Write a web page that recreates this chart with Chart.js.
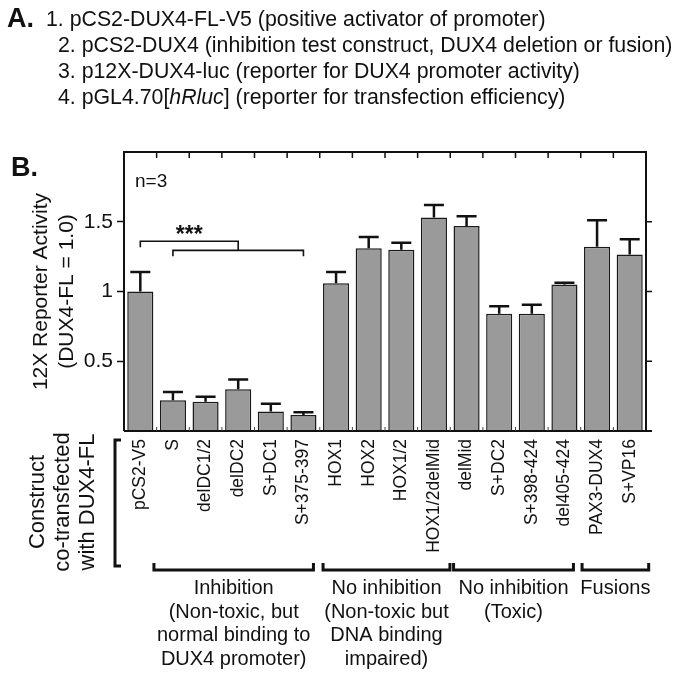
<!DOCTYPE html>
<html>
<head>
<meta charset="utf-8">
<script src="https://cdn.jsdelivr.net/npm/chart.js@4.4.1/dist/chart.umd.min.js"></script>
<style>
html,body{margin:0;padding:0;background:#fff;}
#wrap{position:relative;width:683px;height:674px;overflow:hidden;}
canvas{display:block;}
</style>
</head>
<body>
<div id="wrap"><canvas id="c" width="683" height="674"></canvas></div>
<script>
// ---------- data ----------
const categories = ['pCS2-V5','S','delDC1/2','delDC2','S+DC1','S+375-397',
  'HOX1','HOX2','HOX1/2','HOX1/2delMid','delMid','S+DC2','S+398-424','del405-424',
  'PAX3-DUX4','S+VP16'];
const activity = [1.00,0.22,0.21,0.30,0.14,0.115,1.06,1.31,1.30,1.53,1.47,0.84,0.84,1.05,1.32,1.265];
const errorUp  = [0.14,0.06,0.035,0.07,0.055,0.02,0.08,0.08,0.05,0.09,0.07,0.055,0.065,0.012,0.19,0.11];
const yTickValues = [0.5, 1, 1.5];
const yMin = 0, yMax = 2;

const groupStart = [1, 6, 10, 14];
const groupEnd   = [5, 9, 13, 15];
const groupText  = [
  ['Inhibition','(Non-toxic, but','normal binding to','DUX4 promoter)'],
  ['No inhibition','(Non-toxic but','DNA binding','impaired)'],
  ['No inhibition','(Toxic)'],
  ['Fusions']
];
const sigControl = 0;          // pCS2-V5
const sigRange = [1, 5];       // S ... S+375-397
const sigLevels = [1.36, 1.295];
const sigLabel = '***';

const partALines = [
  '1. pCS2-DUX4-FL-V5 (positive activator of promoter)',
  '2. pCS2-DUX4 (inhibition test construct, DUX4 deletion or fusion)',
  '3. p12X-DUX4-luc (reporter for DUX4 promoter activity)'
];
const partALine4 = ['4. pGL4.70[', 'hRluc', '] (reporter for transfection efficiency)'];
const yTitle = ['12X Reporter Activity', '(DUX4-FL = 1.0)'];
const xTitle = ['Construct', 'co-transfected', 'with DUX4-FL'];

// ---------- styles ----------
const FONT = '"Liberation Sans", Arial, Helvetica, sans-serif';
const INK = '#111';
const bracketPadL = [19, 13, 13, 15];
const bracketPadR = [10, 16, 9, 19];

// ---------- decorations plugin ----------
const deco = {
  id: 'deco',
  afterDatasetsDraw(chart) {
    const ctx = chart.ctx;
    const xs = chart.scales.x, ys = chart.scales.y;
    const ca = chart.chartArea;
    const meta = chart.getDatasetMeta(0);
    ctx.save();
    // error bars
    ctx.strokeStyle = INK; ctx.lineWidth = 2.5; ctx.lineCap = 'butt';
    meta.data.forEach((el, i) => {
      const yTop = ys.getPixelForValue(activity[i] + errorUp[i]);
      ctx.beginPath();
      ctx.moveTo(el.x, el.y); ctx.lineTo(el.x, yTop);
      ctx.moveTo(el.x - 10, yTop); ctx.lineTo(el.x + 10, yTop);
      ctx.stroke();
    });
    // frame
    ctx.lineWidth = 2;
    ctx.beginPath();
    ctx.moveTo(ca.left, ca.bottom); ctx.lineTo(ca.left, ca.top);
    ctx.lineTo(ca.right, ca.top); ctx.lineTo(ca.right, ca.bottom);
    ctx.moveTo(ca.left, ca.bottom); ctx.lineTo(ca.right + 6, ca.bottom);
    ctx.stroke();
    // top ticks (inward) and bottom ticks (inward) at category boundaries
    const n = categories.length;
    ctx.lineWidth = 1.5;
    ctx.beginPath();
    for (let k = 1; k < n; k++) {
      const bx = (xs.getPixelForValue(k - 1) + xs.getPixelForValue(k)) / 2;
      ctx.moveTo(bx, ca.top); ctx.lineTo(bx, ca.top + 6);
    }
    ctx.stroke();
    ctx.lineWidth = 1; ctx.strokeStyle = '#444';
    ctx.beginPath();
    for (let k = 1; k < n; k++) {
      const bx = (xs.getPixelForValue(k - 1) + xs.getPixelForValue(k)) / 2;
      ctx.moveTo(bx, ca.bottom); ctx.lineTo(bx, ca.bottom - 4);
    }
    ctx.stroke();
    // right axis ticks (outward)
    ctx.strokeStyle = INK; ctx.lineWidth = 1.5;
    ctx.beginPath();
    yTickValues.forEach(v => {
      const py = ys.getPixelForValue(v);
      ctx.moveTo(ca.right, py); ctx.lineTo(ca.right + 6, py);
    });
    ctx.stroke();

    // significance brackets
    const x0 = xs.getPixelForValue(sigControl);
    const xa = xs.getPixelForValue(sigRange[0]);
    const xb = xs.getPixelForValue(sigRange[1]);
    const xm = (xa + xb) / 2;
    const y1 = ys.getPixelForValue(sigLevels[0]);
    const y2 = ys.getPixelForValue(sigLevels[1]);
    ctx.lineWidth = 1.6; ctx.strokeStyle = INK;
    ctx.beginPath();
    ctx.moveTo(x0, y1 + 6); ctx.lineTo(x0, y1); ctx.lineTo(xm, y1); ctx.lineTo(xm, y2);
    ctx.moveTo(xa, y2 + 6); ctx.lineTo(xa, y2); ctx.lineTo(xb, y2); ctx.lineTo(xb, y2 + 6);
    ctx.stroke();
    ctx.fillStyle = INK;
    ctx.font = 'bold 23px ' + FONT;
    ctx.textAlign = 'center'; ctx.textBaseline = 'alphabetic';
    ctx.fillText(sigLabel, (x0 + xm) / 2, y1 + 1);

    // n=3
    ctx.font = '19px ' + FONT; ctx.textAlign = 'left';
    ctx.fillText('n=3', ca.left + 11, 187);

    // group brackets and text
    ctx.lineWidth = 3;
    const gy = 570;
    for (let g = 0; g < groupStart.length; g++) {
      const l = xs.getPixelForValue(groupStart[g]) - bracketPadL[g];
      const r = xs.getPixelForValue(groupEnd[g]) + bracketPadR[g];
      ctx.beginPath();
      ctx.moveTo(l, gy - 7); ctx.lineTo(l, gy); ctx.lineTo(r, gy); ctx.lineTo(r, gy - 7);
      ctx.stroke();
      ctx.font = '20px ' + FONT; ctx.textAlign = 'center';
      groupText[g].forEach((t, j) => ctx.fillText(t, (l + r) / 2, 594 + j * 23.7));
    }
    // left "[" bracket
    ctx.beginPath();
    ctx.moveTo(121, 440); ctx.lineTo(115, 440); ctx.lineTo(115, 566); ctx.lineTo(121, 566);
    ctx.stroke();

    // rotated titles
    ctx.textAlign = 'center'; ctx.textBaseline = 'middle';
    ctx.font = '21px ' + FONT;
    const ycen = (ca.top + ca.bottom) / 2;
    [41, 67].forEach((xx, j) => {
      ctx.save(); ctx.translate(xx, ycen); ctx.rotate(-Math.PI / 2);
      ctx.fillText(yTitle[j], 0, 0); ctx.restore();
    });
    ctx.font = '22px ' + FONT;
    [38, 63, 88].forEach((xx, j) => {
      ctx.save(); ctx.translate(xx, 502); ctx.rotate(-Math.PI / 2);
      ctx.fillText(xTitle[j], 0, 0); ctx.restore();
    });

    // panel labels
    ctx.textBaseline = 'alphabetic'; ctx.textAlign = 'left';
    ctx.font = 'bold 27px ' + FONT;
    ctx.fillText('A.', 7, 27);
    ctx.fillText('B.', 11, 176);
    // part A text
    const fA = '21.3px ' + FONT;
    ctx.font = fA;
    const lx = [46, 58, 58];
    partALines.forEach((t, j) => ctx.fillText(t, lx[j], 26 + j * 26));
    let px = 58; const py4 = 26 + 3 * 26;
    ctx.fillText(partALine4[0], px, py4); px += ctx.measureText(partALine4[0]).width;
    ctx.font = 'italic ' + fA;
    ctx.fillText(partALine4[1], px, py4); px += ctx.measureText(partALine4[1]).width;
    ctx.font = fA;
    ctx.fillText(partALine4[2], px, py4);
    ctx.restore();
  }
};

new Chart(document.getElementById('c'), {
  type: 'bar',
  data: {
    labels: categories,
    datasets: [{
      data: activity,
      backgroundColor: '#9a9a9a',
      borderColor: '#1a1a1a',
      borderWidth: 1.5,
      barPercentage: 0.8,
      categoryPercentage: 1.0
    }]
  },
  options: {
    responsive: false,
    animation: false,
    devicePixelRatio: 1,
    layout: { padding: { top: 152, right: 37, left: 0, bottom: 0 } },
    plugins: { legend: { display: false }, tooltip: { enabled: false } },
    scales: {
      x: {
        type: 'category',
        offset: true,
        grid: { display: false, drawTicks: false },
        border: { display: false },
        ticks: {
          autoSkip: false, minRotation: 90, maxRotation: 90, padding: 8,
          color: INK, font: { family: FONT, size: 17.5 }
        },
        afterFit(scale) { scale.height = 243; }
      },
      y: {
        min: yMin, max: yMax,
        afterBuildTicks(scale) { scale.ticks = [yMin, ...yTickValues, yMax].map(v => ({ value: v })); },
        grid: {
          drawOnChartArea: false, tickLength: 7,
          tickColor: c => (c.tick && yTickValues.includes(c.tick.value)) ? INK : 'rgba(0,0,0,0)',
          tickWidth: 1.5
        },
        border: { display: false },
        ticks: {
          padding: 4, color: INK, font: { family: FONT, size: 21 },
          callback: v => yTickValues.includes(v) ? String(v) : ''
        },
        afterFit(scale) { scale.width = 124; }
      }
    }
  },
  plugins: [deco]
});
</script>
</body>
</html>
